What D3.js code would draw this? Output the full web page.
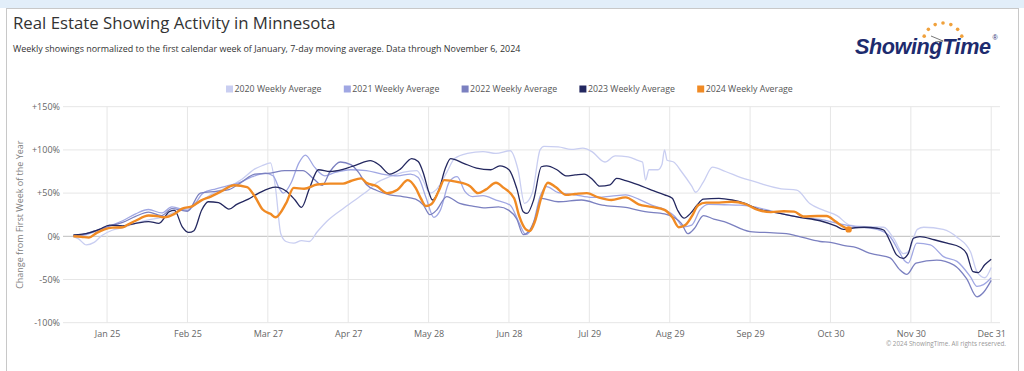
<!DOCTYPE html>
<html>
<head>
<meta charset="utf-8">
<script src="https://cdnjs.cloudflare.com/ajax/libs/d3/7.8.5/d3.min.js"></script>
<style>
  body { margin: 0; background: #fff; font-family: "Open Sans", sans-serif; }
</style>
</head>
<body>
<div id="chart"></div>
<script>
// x values are day of year (Jan 1 = 0), y values are % change from first week
let years = ["2020", "2021", "2022", "2023", "2024"];
let colors = ["#c9cef1", "#a0a7e3", "#7b80c0", "#23275f", "#f08a24"];

let xTickDays = [24, 55, 86, 117, 148, 179, 210, 241, 272, 303, 334, 365];
let xTickLabels = ["Jan 25", "Feb 25", "Mar 27", "Apr 27", "May 28", "Jun 28",
                   "Jul 29", "Aug 29", "Sep 29", "Oct 30", "Nov 30", "Dec 31"];
let yTicks = [-100, -50, 0, 50, 100, 150];

let s2020 = [[11,0],[13,-3],[16,-10],[19,-7],[22,1],[26,7],[30,10],[35,15],[40,19],[45,22],[50,28],[55,32],
  [60,40],[65,50],[70,56],[76,66],[81,78],[84,82],[87,85],[89,55],[91,3],[93,-6],[96,-8],[99,-5],[102,-6],
  [105,5],[109,18],[115,32],[121,45],[125,54],[128,62],[133,69],[138,74],[143.5,76],[146,64],[148.5,50],
  [151,54],[155,74],[158,90],[163,96],[169,98],[174,96],[179.5,99],[182.5,77],[185,38],[188,50],[191,100],
  [192.5,104],[198,103.5],[203,100.5],[207.5,102],[211,98],[216,86],[220,93],[225,92],[229,87.5],[230.5,86],
  [231.7,65],[233,77],[236.5,77],[238,83],[239,100],[240,88],[242.5,86],[245.5,75],[249.5,58],[251,51],
  [254,63],[257.5,80],[262.5,75],[268.5,68],[275,62],[277,60],[284,55],[290,53.5],[295,38],[300,30.5],
  [305.5,24],[310.5,13],[318,11],[323.5,10.5],[327.5,-3],[331,-20],[333,-18],[336.5,8],[339,10.5],
  [346.5,8],[351.8,-1],[357,-18],[359.5,-41],[362.5,-48],[365,-36]];

let s2021 = [[11,0],[16,2],[20,6],[25,12],[30,18],[35,26],[40,31],[45,27],[49,34],[55,30],[58,38],[61,50],
  [66,55],[70,58],[75,62],[80,69],[85,73],[88,70],[90.5,55],[92,50],[95,62],[98,85],[100.5,94],[104,80],
  [108,70],[112,74],[118,77],[124,76],[130,72],[136,70],[141,72],[144,68],[147,45],[150,22],[152.5,30],
  [156,63],[159,69],[162,52],[165,46],[169,47],[174,42],[179.5,36],[183,15],[185.5,2],[188,11],[191,46],
  [193.5,57.5],[198,50.5],[204.5,48],[211,45],[218.5,46.5],[224,48],[229,43],[234,36],[239,31],[243,23],
  [246.3,11],[249.5,13],[252.7,30.5],[256,37],[262,36.5],[268,36],[272,35],[281,28.5],[291,22],[300,19],
  [307,14],[313,11],[321,8],[326,-0.5],[329.5,-18],[331.5,-28],[333,-31],[336.3,-8],[341.5,-10],
  [346.6,-23.5],[351.8,-29],[357,-47],[359.5,-58],[362,-56],[365,-48]];

let s2022 = [[11,0],[16,3],[20,7],[25,12],[30,16],[35,23],[40,28],[45,24],[49,32],[55,29],[60,50],[66,52],
  [71,54],[76,63],[81,72],[87,73],[92.5,76],[99.5,76],[103.5,67],[107,59],[110,75],[114,86],[118,83],
  [121,74],[124,60],[128,53],[133,48],[138,46],[143,43],[146,36],[148.5,25],[151,30],[155,46],[160,38],
  [165,35],[170,33],[175,34],[179,30],[182,20],[184.5,2],[186.5,5],[189,20],[191.5,44],[198,40],[207,42],
  [215,36],[224,33.5],[231.5,28.5],[239,26],[245.5,15],[248,3],[250.5,9],[254,24],[258,20],[262,17],
  [272,5.5],[281,4],[286,3],[290,0.5],[299,-6],[303,-7],[309,-11],[313,-13],[318,-19.5],[321,-21.5],
  [326,-25],[329.5,-38],[332.5,-44],[336,-31],[344,-27.5],[350.5,-33],[355.5,-49],[359.5,-70],[362,-65],
  [365,-51]];

let s2023 = [[11,1.5],[17,4],[21,8],[25,13],[30,12],[35,15],[40,17],[44,15],[48,28.5],[50,30],[53,11],
  [55.5,4.5],[57.5,6.5],[60.5,30.5],[63,40],[67,39],[71,31.5],[74,37],[78.5,43],[82.5,50],[89,57],[93,52.5],
  [96.5,42],[99,33.5],[102,55],[105.5,77],[110,75],[115,77.5],[120,82.5],[125.5,87.5],[129,82.5],[133,72],
  [137,77.5],[141.5,90],[144,86.5],[146,73],[148,52],[149.5,42],[152,54],[154.5,79],[156.5,90],[161.5,84.5],
  [166.5,79],[172,77],[175.5,81.5],[179,77],[182,55.5],[184.5,28.5],[186,26.5],[188.5,42],[191.5,80.5],
  [193.5,81.5],[197.5,77],[201,70],[204.5,71],[208,72],[211.5,65],[214,58],[218,59.5],[220.5,67],[224,64.5],
  [229,59.5],[234,53.5],[239,48],[242,44],[244,30.5],[246.5,21],[249,26.5],[251.5,36],[254,43],[260,44],
  [265,42],[270,38],[275,31.5],[280,28.5],[283.5,26.5],[291,22],[299,18],[305,12],[308,8],[311,9.3],
  [316,10.5],[321,9.3],[323.5,7.3],[326,-6],[328.5,-21.5],[331,-25.5],[333,-20],[335,-2.3],[337.5,-0.4],
  [343,-4],[348,-8],[353,-12.7],[355.5,-20],[358,-41],[360,-42],[362.5,-33],[365,-26.5]];

let s2024 = [[11,0],[14,-0.5],[17,-1.5],[20,4],[23,8],[26,10],[30,10.5],[32,13.5],[35,18],[40,24],[44,23],
  [46,22],[50,26],[53,32],[57,35],[60,41],[64,46],[68,52],[73,59],[78,57],[81,46],[84,31],[87,26],[89,22],
  [93,38],[96,56],[100,55],[105,60],[110,61],[115,61],[118,64],[122,67],[124,62],[128,58],[132,50],[136,54],
  [140,65],[143,56],[145,44],[147,35],[149,37],[152,53],[154,65],[159,63],[164,58],[167,50],[170,54],
  [174,62],[177,56],[181,44],[183,23],[185.5,8],[187,6],[189,17],[191.5,45],[194,62],[197,57],[201,48],
  [204.5,49],[209,50],[213.5,45],[218.5,42],[224,45],[229,37],[234,34],[239,30.5],[242,22],[244.5,10.5],
  [247,13],[249.5,23],[252,36],[255,39],[260,39],[265,40],[270,37.5],[275,30.5],[280,28],[285,29],
  [289,28.5],[292.5,23],[298,23.5],[301.5,23.5],[305,17],[307.5,12],[310,8]];

let allSeries = [s2020, s2021, s2022, s2023, s2024];

let W = 1024, H = 371;

let svg = d3.select("#chart")
    .append("svg")
    .attr("width", W)
    .attr("height", H)
    .style("display", "block");

// page band and chart frame
svg.append("rect").attr("x", 0).attr("y", 0).attr("width", W).attr("height", 8).attr("fill", "#e2eef9");
svg.append("rect").attr("x", 6.5).attr("y", 8.5).attr("width", 1012).attr("height", 380)
    .attr("fill", "#fff").attr("stroke", "#c8c8c8");

// titles
svg.append("text").attr("x", 13).attr("y", 29)
    .attr("font-size", "16.8px").attr("fill", "#333")
    .text("Real Estate Showing Activity in Minnesota");
svg.append("text").attr("x", 13).attr("y", 52)
    .attr("font-size", "8.95px").attr("fill", "#333")
    .text("Weekly showings normalized to the first calendar week of January, 7-day moving average. Data through November 6, 2024");

// logo
let logo = svg.append("g");
let dotAngles = [-160, -137, -113, -90, -67, -43, -20];
logo.selectAll("circle").data(dotAngles).enter().append("circle")
    .attr("cx", (a) => 943 + 20 * Math.cos(a * Math.PI / 180))
    .attr("cy", (a) => 43 + 20 * Math.sin(a * Math.PI / 180))
    .attr("r", 1.8)
    .attr("fill", "#f0a13c");
logo.append("path").attr("d", "M931,36 L943,41 L935,42").attr("fill", "none")
    .attr("stroke", "#555").attr("stroke-width", 0.8);
let logoText = logo.append("text").attr("x", 855).attr("y", 54)
    .attr("font-family", "'Liberation Sans', Arial, sans-serif")
    .attr("font-weight", "bold").attr("font-style", "italic")
    .attr("fill", "#1d2b6e");
logoText.append("tspan").attr("font-size", "21.6px").attr("letter-spacing", "-0.4px").text("ShowingTime");
logoText.append("tspan").attr("font-size", "7px").attr("font-weight", "normal")
    .attr("font-style", "normal").attr("dx", 2).attr("dy", -14).text("®");

// legend
let legend = svg.append("g").selectAll("g").data(years).enter().append("g")
    .attr("transform", (d, i) => "translate(" + (226 + i * 117.8) + ",89)");
legend.append("rect").attr("x", 0).attr("y", -3.5).attr("width", 7).attr("height", 7)
    .attr("fill", (d, i) => colors[i]);
legend.append("text").attr("x", 8.5).attr("y", 3.2)
    .attr("font-size", "8.8px").attr("fill", "#555")
    .text((d) => d + " Weekly Average");

// scales
let x = d3.scaleLinear().domain([7, 368]).range([63, 999]);
let y = d3.scaleLinear().domain([-100, 150]).range([322.7, 106.7]);

// gridlines
let grid = svg.append("g");
grid.selectAll("line.h").data(yTicks).enter().append("line")
    .attr("x1", 63).attr("x2", 1000)
    .attr("y1", (d) => y(d)).attr("y2", (d) => y(d))
    .attr("stroke", (d) => d === 0 ? "#bdbdbd" : "#e6e6e6")
    .attr("stroke-width", 1);
grid.selectAll("line.v").data(xTickDays).enter().append("line")
    .attr("x1", (d) => x(d)).attr("x2", (d) => x(d))
    .attr("y1", y(150)).attr("y2", y(-100))
    .attr("stroke", "#e6e6e6").attr("stroke-width", 1);

// axes
let yAxis = svg.append("g")
    .attr("transform", "translate(63,0)")
    .call(d3.axisLeft(y).tickValues(yTicks).tickSize(0).tickPadding(3)
        .tickFormat((d) => (d > 0 ? "+" : "") + d + "%"));
yAxis.select(".domain").remove();
yAxis.selectAll("text").attr("font-family", "'Open Sans', sans-serif")
    .attr("font-size", "9px").attr("fill", "#666");

let xAxis = svg.append("g")
    .attr("transform", "translate(0," + y(-100) + ")")
    .call(d3.axisBottom(x).tickValues(xTickDays).tickSize(0).tickPadding(8)
        .tickFormat((d, i) => xTickLabels[i]));
xAxis.select(".domain").remove();
xAxis.selectAll("text").attr("font-family", "'Open Sans', sans-serif")
    .attr("font-size", "9px").attr("fill", "#666");

svg.append("text")
    .attr("transform", "translate(23," + y(25) + ") rotate(-90)")
    .attr("text-anchor", "middle")
    .attr("font-size", "9px").attr("fill", "#808080")
    .text("Change from First Week of the Year");

// lines
let line = d3.line()
    .x((d) => x(d[0]))
    .y((d) => y(d[1]))
    .curve(d3.curveMonotoneX);

svg.append("g").selectAll("path").data(allSeries).enter().append("path")
    .attr("d", line)
    .attr("fill", "none")
    .attr("stroke", (d, i) => colors[i])
    .attr("stroke-width", (d, i) => i === 4 ? 2.4 : 1.3)
    .attr("stroke-linejoin", "round");

let last = s2024[s2024.length - 1];
svg.append("circle")
    .attr("cx", x(last[0])).attr("cy", y(last[1]))
    .attr("r", 3.2).attr("fill", colors[4]);

svg.append("text").attr("x", 1006).attr("y", 346)
    .attr("text-anchor", "end").attr("font-size", "6.3px").attr("fill", "#999")
    .text("© 2024 ShowingTime. All rights reserved.");
</script>
</body>
</html>
